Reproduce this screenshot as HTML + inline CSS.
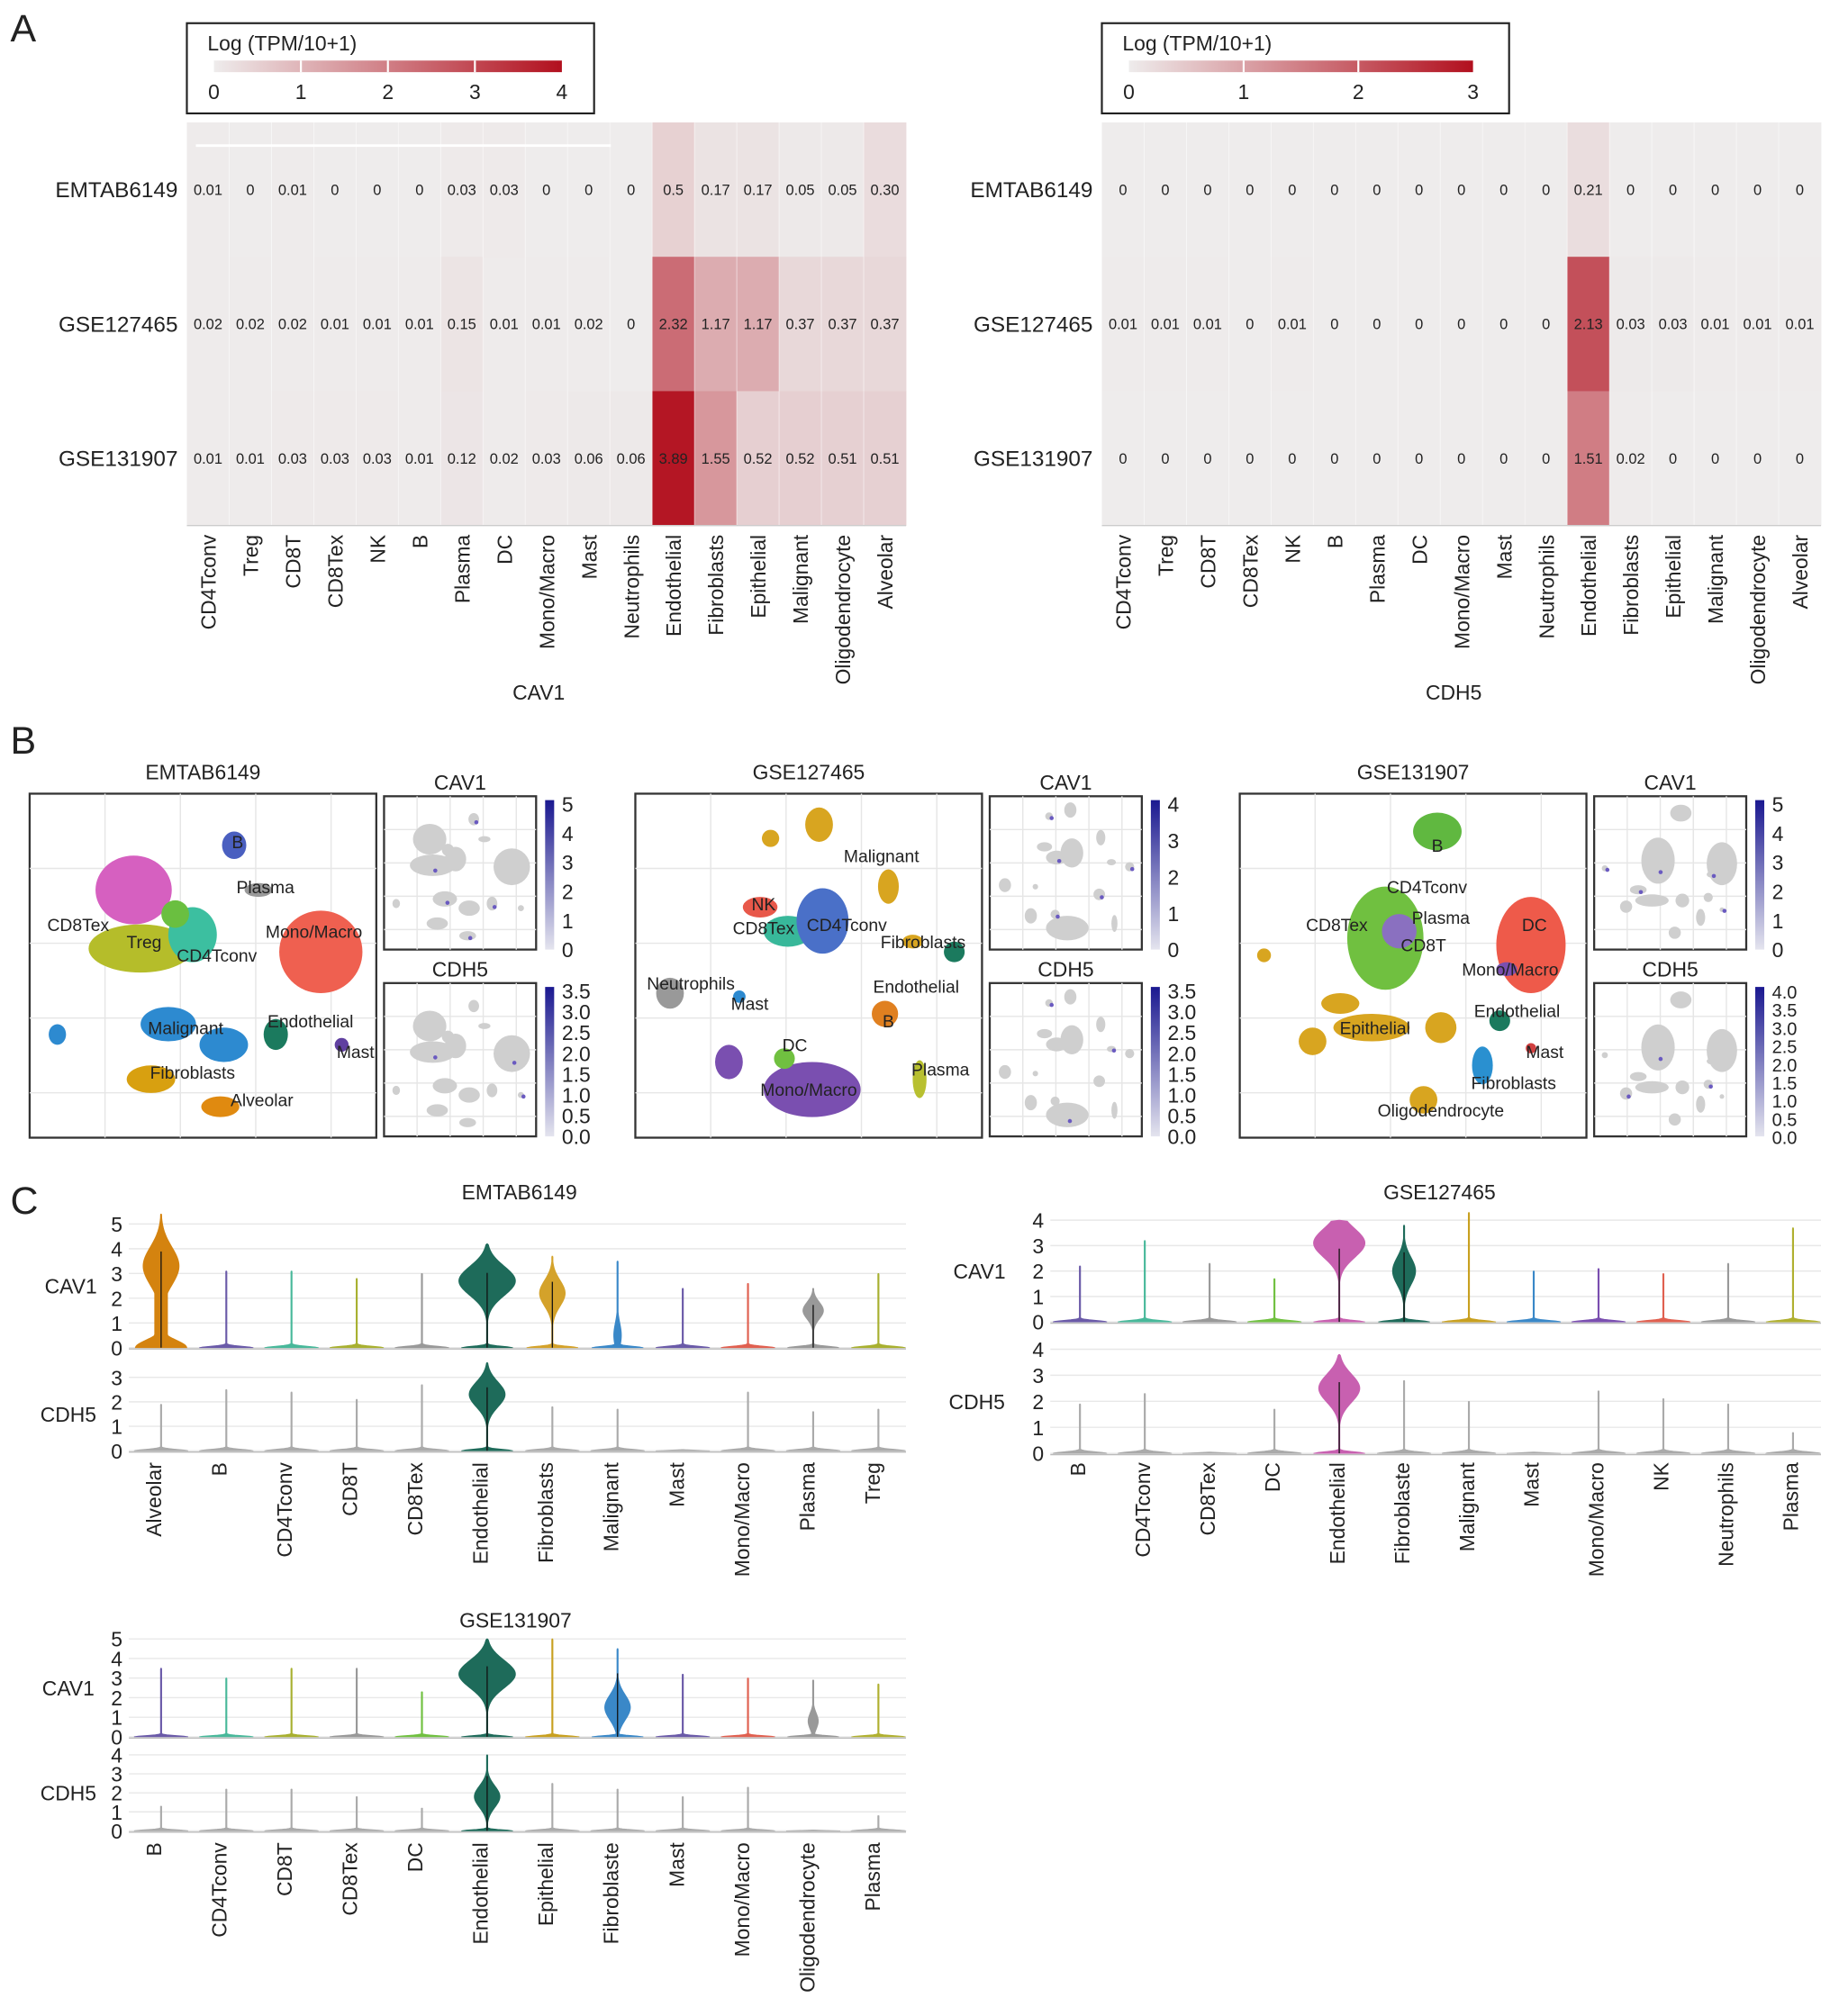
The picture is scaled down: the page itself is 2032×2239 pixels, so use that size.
<!DOCTYPE html>
<html><head><meta charset="utf-8"><style>
html,body{margin:0;padding:0;background:#fff}
svg{display:block}
text{font-family:"Liberation Sans",sans-serif;fill:#222}
</style></head><body>
<svg id="fig" width="2032" height="2239" viewBox="0 0 1420 1564.7" preserveAspectRatio="none" xmlns="http://www.w3.org/2000/svg">
<text x="8" y="32" font-size="30">A</text>
<text x="8" y="585" font-size="30">B</text>
<text x="8" y="942" font-size="30">C</text>
<g id="hm"></g><g id="um"></g><g id="vi"></g>
</svg>
<script>
const NS='http://www.w3.org/2000/svg';
function mk(tag,attrs,parent,txt){const e=document.createElementNS(NS,tag);for(const k in attrs)e.setAttribute(k,attrs[k]);if(txt!==undefined)e.textContent=txt;parent.appendChild(e);return e;}

// ---------- Panel A data ----------
const hmRows=['EMTAB6149','GSE127465','GSE131907'];
const cav1Cols=['CD4Tconv','Treg','CD8T','CD8Tex','NK','B','Plasma','DC','Mono/Macro','Mast','Neutrophils','Endothelial','Fibroblasts','Epithelial','Malignant','Oligodendrocyte','Alveolar'];
const cav1Vals=[
[0.01,0,0.01,0,0,0,0.03,0.03,0,0,0,0.5,0.17,0.17,0.05,0.05,0.30],
[0.02,0.02,0.02,0.01,0.01,0.01,0.15,0.01,0.01,0.02,0,2.32,1.17,1.17,0.37,0.37,0.37],
[0.01,0.01,0.03,0.03,0.03,0.01,0.12,0.02,0.03,0.06,0.06,3.89,1.55,0.52,0.52,0.51,0.51]];
const cav1Labels=[
['0.01','0','0.01','0','0','0','0.03','0.03','0','0','0','0.5','0.17','0.17','0.05','0.05','0.30'],
['0.02','0.02','0.02','0.01','0.01','0.01','0.15','0.01','0.01','0.02','0','2.32','1.17','1.17','0.37','0.37','0.37'],
['0.01','0.01','0.03','0.03','0.03','0.01','0.12','0.02','0.03','0.06','0.06','3.89','1.55','0.52','0.52','0.51','0.51']];
const cdh5Vals=[
[0,0,0,0,0,0,0,0,0,0,0,0.21,0,0,0,0,0],
[0.01,0.01,0.01,0,0.01,0,0,0,0,0,0,2.13,0.03,0.03,0.01,0.01,0.01],
[0,0,0,0,0,0,0,0,0,0,0,1.51,0.02,0,0,0,0]];
const cav1Ticks=['0','1','2','3','4'];
const cdh5Ticks=['0','1','2','3'];

function heat(v,max){const t=Math.min(1,v/max);const r=Math.round(238-t*60),g=Math.round(236-t*220),b=Math.round(236-t*206);return `rgb(${r},${g},${b})`;}
function heatmap(g,x0,gene,vals,labels,ticks){
  const w=558/17,y0=95,h=104.3,max=ticks.length-1;
  const grp=mk('g',{},g);
  const lx=x0, lg=mk('g',{},grp);
  mk('rect',{x:lx,y:18,width:316,height:70,fill:'#fff',stroke:'#222','stroke-width':1.5},lg);
  mk('text',{x:lx+16,y:39,'font-size':16},lg,'Log (TPM/10+1)');
  const gid='grad'+gene;const defs=mk('defs',{},lg);const gr=mk('linearGradient',{id:gid},defs);
  mk('stop',{offset:'0','stop-color':heat(0,1)},gr);mk('stop',{offset:'1','stop-color':heat(1,1)},gr);
  const bx=lx+21,bw=lx===145?270:267;
  mk('rect',{x:bx,y:47,width:bw,height:9,fill:`url(#${gid})`},lg);
  ticks.forEach((t,i)=>{const tx=bx+bw*i/max;if(i>0&&i<max)mk('line',{x1:tx,x2:tx,y1:47,y2:56,stroke:'#fff','stroke-width':1.5},lg);
    mk('text',{x:tx,y:77,'font-size':16,'text-anchor':'middle'},lg,t);});
  hmRows.forEach((r,ri)=>{
    mk('text',{x:x0-7,y:y0+h*ri+h/2+6,'font-size':17,'text-anchor':'end',},grp,r);
    cav1Cols.forEach((c,ci)=>{
      const v=vals[ri][ci];
      const cell=mk('rect',{x:x0+ci*w,y:y0+ri*h,width:w+0.3,height:h+0.3,fill:heat(v,max)},grp);
      
      
      mk('text',{x:x0+ci*w+w/2,y:y0+ri*h+h/2+4,'font-size':11.5,'text-anchor':'middle'},grp,labels?labels[ri][ci]:String(v));
    });
  });
  for(let ci=1;ci<17;ci++)mk('line',{x1:x0+ci*w,x2:x0+ci*w,y1:y0,y2:y0+3*h,stroke:'#fff','stroke-width':0.6,'stroke-opacity':0.6},grp);
  mk('line',{x1:x0,x2:x0+558,y1:y0+3*h,y2:y0+3*h,stroke:'#ccc'},grp);
  cav1Cols.forEach((c,ci)=>{const cx=x0+ci*w+w/2+6;
    mk('text',{x:0,y:0,'font-size':16,'text-anchor':'end',transform:`translate(${cx},415) rotate(-90)`,},grp,c);});
  mk('text',{x:x0+273,y:543,'font-size':16,'text-anchor':'middle',},grp,gene);
}
const hm=document.getElementById('hm');
heatmap(hm,145,'CAV1',cav1Vals,cav1Labels,cav1Ticks);
const cdh5Labels=cdh5Vals.map(r=>r.map(v=>String(v)));
heatmap(hm,855,'CDH5',cdh5Vals,cdh5Labels,cdh5Ticks);
mk('line',{x1:152,x2:474,y1:113,y2:113,stroke:'#fff','stroke-width':2},hm);

// ---------- Panel B data (cluster centres in UMAP units 0-1) ----------
const umEmtabClusters=[
 [0.30,0.28,0.11,0.10,'#d660c0'],[0.32,0.45,0.15,0.07,'#b5bd2a'],[0.47,0.41,0.07,0.08,'#3cbfa0'],[0.42,0.35,0.04,0.04,'#6abf40'],
 [0.59,0.15,0.035,0.04,'#4a5fc0'],[0.66,0.28,0.04,0.02,'#999999'],[0.84,0.46,0.12,0.12,'#ef6050'],
 [0.40,0.67,0.08,0.05,'#2d8ad0'],[0.56,0.73,0.07,0.05,'#2d8ad0'],[0.08,0.70,0.025,0.03,'#2d8ad0'],
 [0.71,0.70,0.035,0.045,'#1b7a5e'],[0.90,0.73,0.02,0.02,'#6040a0'],[0.35,0.83,0.07,0.04,'#d8a010'],[0.55,0.91,0.055,0.03,'#e08a10']];
const umEmtabLabels=[['B',0.60,0.14],['Plasma',0.68,0.27],['CD8Tex',0.14,0.38],['Treg',0.33,0.43],['CD4Tconv',0.54,0.47],['Mono/Macro',0.82,0.40],['Malignant',0.45,0.68],['Endothelial',0.81,0.66],['Mast',0.94,0.75],['Fibroblasts',0.47,0.81],['Alveolar',0.67,0.89]];
const umGse127Clusters=[
 [0.53,0.09,0.04,0.05,'#d8a520'],[0.39,0.13,0.025,0.025,'#d8a520'],[0.73,0.27,0.03,0.05,'#d8a520'],
 [0.36,0.33,0.05,0.03,'#e8584a'],[0.44,0.40,0.07,0.045,'#38b89a'],[0.54,0.37,0.075,0.095,'#4a70c8'],
 [0.80,0.43,0.03,0.02,'#d8a520'],[0.92,0.46,0.03,0.03,'#1b7a5e'],[0.10,0.58,0.04,0.045,'#999999'],
 [0.30,0.59,0.018,0.018,'#2d8ad0'],[0.72,0.64,0.038,0.038,'#e08020'],[0.51,0.86,0.14,0.08,'#7a4fb0'],
 [0.27,0.78,0.04,0.05,'#7a4fb0'],[0.43,0.77,0.03,0.03,'#70c040'],[0.82,0.83,0.02,0.055,'#b8c030']];
const umGse127Labels=[['Malignant',0.71,0.18],['NK',0.37,0.32],['CD8Tex',0.37,0.39],['CD4Tconv',0.61,0.38],['Fibroblasts',0.83,0.43],['Neutrophils',0.16,0.55],['Mast',0.33,0.61],['Endothelial',0.81,0.56],['B',0.73,0.66],['DC',0.46,0.73],['Plasma',0.88,0.80],['Mono/Macro',0.50,0.86]];
const umGse131Clusters=[
 [0.57,0.11,0.07,0.055,'#60b840'],[0.42,0.42,0.11,0.15,'#70c040'],[0.46,0.40,0.05,0.05,'#8a70c0'],[0.84,0.44,0.10,0.14,'#ee5a4a'],
 [0.77,0.51,0.03,0.02,'#7a4fb0'],[0.38,0.68,0.11,0.04,'#d8a520'],[0.21,0.72,0.04,0.04,'#d8a520'],[0.07,0.47,0.02,0.02,'#d8a520'],
 [0.58,0.68,0.045,0.045,'#d8a520'],[0.53,0.89,0.04,0.04,'#d8a520'],[0.29,0.61,0.055,0.03,'#d8a520'],
 [0.75,0.66,0.03,0.03,'#1b7a5e'],[0.70,0.79,0.03,0.055,'#2a90d0'],[0.84,0.74,0.015,0.015,'#d04040']];
const umGse131Labels=[['B',0.57,0.15],['CD4Tconv',0.54,0.27],['CD8Tex',0.28,0.38],['Plasma',0.58,0.36],['CD8T',0.53,0.44],['DC',0.85,0.38],['Mono/Macro',0.78,0.51],['Endothelial',0.80,0.63],['Epithelial',0.39,0.68],['Mast',0.88,0.75],['Fibroblasts',0.79,0.84],['Oligodendrocyte',0.58,0.92]];
const cav1Bar1=['5','4','3','2','1','0'], cdh5Bar1=['3.5','3.0','2.5','2.0','1.5','1.0','0.5','0.0'];
const cav1Bar2=['4','3','2','1','0'], cdh5Bar2=['3.5','3.0','2.5','2.0','1.5','1.0','0.5','0.0'];
const cav1Bar3=['5','4','3','2','1','0'], cdh5Bar3=['4.0','3.5','3.0','2.5','2.0','1.5','1.0','0.5','0.0'];

function umapPanel(g,x,title,clusters,labels,bars){
  const grp=mk('g',{},g);
  const W=269,H=267,y=616;
  mk('text',{x:x+W/2,y:y-11,'font-size':16,'text-anchor':'middle'},grp,title);
  function frame(fx,fy,fw,fh){mk('rect',{x:fx,y:fy,width:fw,height:fh,fill:'#fff',stroke:'#333','stroke-width':1.6},grp);
    for(let i=1;i<5;i++){mk('line',{x1:fx+fw*i/4.6,x2:fx+fw*i/4.6,y1:fy,y2:fy+fh,stroke:'#e6e6e6'},grp);mk('line',{x1:fx,x2:fx+fw,y1:fy+fh*i/4.6,y2:fy+fh*i/4.6,stroke:'#e6e6e6'},grp);}}
  frame(x,y,W,H);
  const sx=u=>x+u*W, sy=v=>y+v*H;
  clusters.forEach(c=>{const e=mk('ellipse',{cx:sx(c[0]),cy:sy(c[1]),rx:c[2]*W,ry:c[3]*H,fill:c[4]},grp);
    
    });
  labels.forEach(l=>mk('text',{x:sx(l[1]),y:sy(l[2])+5,'font-size':13.5,'text-anchor':'middle',},grp,l[0]));
  const fx=x+W+6, fw=118, fh=119;
  [[y+2,'CAV1',bars[0]],[y+147,'CDH5',bars[1]]].forEach(([fy,gene,ticks],k)=>{
    mk('text',{x:fx+fw/2,y:fy-5,'font-size':16,'text-anchor':'middle'},grp,gene);
    frame(fx,fy,fw,fh);
    clusters.forEach((c,ci)=>{mk('ellipse',{cx:fx+c[0]*fw,cy:fy+c[1]*fh,rx:c[2]*fw,ry:c[3]*fh,fill:'#cfcfcf'},grp);});
    clusters.forEach((c,ci)=>{if(ci%(k?5:3)===1)mk('circle',{cx:fx+c[0]*fw+2,cy:fy+c[1]*fh+c[3]*fh*0.5,r:1.6,fill:'#6a5ac0'},grp);});
    const gid='ub'+title+gene;const defs=mk('defs',{},grp);const gr=mk('linearGradient',{id:gid,x1:0,y1:1,x2:0,y2:0},defs);
    mk('stop',{offset:'0','stop-color':'#e4e4ee'},gr);mk('stop',{offset:'1','stop-color':'#1a1890'},gr);
    mk('rect',{x:fx+fw+7,y:fy+3,width:7,height:fh-3,fill:`url(#${gid})`},grp);
    const n=ticks.length;
    ticks.forEach((t,i)=>mk('text',{x:fx+fw+20,y:fy+6+(fh-6)*i/(n-1)+6,'font-size':n>8?14:16},grp,t));
  });
}
const um=document.getElementById('um');
umapPanel(um,23,'EMTAB6149',umEmtabClusters,umEmtabLabels,[cav1Bar1,cdh5Bar1]);
umapPanel(um,493,'GSE127465',umGse127Clusters,umGse127Labels,[cav1Bar2,cdh5Bar2]);
umapPanel(um,962,'GSE131907',umGse131Clusters,umGse131Labels,[cav1Bar3,cdh5Bar3]);

// ---------- Panel C data ----------
const emtabCats=['Alveolar','B','CD4Tconv','CD8T','CD8Tex','Endothelial','Fibroblasts','Malignant','Mast','Mono/Macro','Plasma','Treg'];
const emtabColors=['#d4830f','#6a5aa8','#48b89a','#a8b030','#999999','#1e6b5a','#d4a22a','#3a88c8','#6a5aa8','#e06050','#999999','#a8b030'];
const emtabCav1Max=[5.4,3.1,3.1,2.8,3.0,4.2,3.7,3.5,2.4,2.6,2.4,3.0];
const emtabCav1Bulge=[14,0,0,0,0,22,10,3,0,0,8,0];
const emtabCav1Mid=[3.3,0,0,0,0,2.7,2.2,0.5,0,0,1.5,0];
const emtabCdh5Max=[1.9,2.5,2.4,2.1,2.7,3.6,1.8,1.7,0,2.4,1.6,1.7];
const emtabCdh5Bulge=[0,0,0,0,0,14,0,0,0,0,0,0];
const emtabCdh5Mid=[0,0,0,0,0,2.3,0,0,0,0,0,0];

const g127Cats=['B','CD4Tconv','CD8Tex','DC','Endothelial','Fibroblaste','Malignant','Mast','Mono/Macro','NK','Neutrophils','Plasma'];
const g127Colors=['#6a5aa8','#48b89a','#999999','#70c040','#c860b0','#1e6b5a','#c8a020','#3a88c8','#7a4fb0','#e06050','#999999','#b0b030'];
const g127Cav1Max=[2.2,3.2,2.3,1.7,4.0,3.8,4.3,2.0,2.1,1.9,2.3,3.7];
const g127Cav1Bulge=[0,0,0,0,20,9,0,0,0,0,0,0];
const g127Cav1Mid=[0,0,0,0,3.1,2.0,0,0,0,0,0,0];
const g127Cdh5Max=[1.9,2.3,0,1.7,3.8,2.8,2.0,0,2.4,2.1,1.9,0.8];
const g127Cdh5Bulge=[0,0,0,0,16,0,0,0,0,0,0,0];
const g127Cdh5Mid=[0,0,0,0,2.5,0,0,0,0,0,0,0];

const g131Cats=['B','CD4Tconv','CD8T','CD8Tex','DC','Endothelial','Epithelial','Fibroblaste','Mast','Mono/Macro','Oligodendrocyte','Plasma'];
const g131Colors=['#6a5aa8','#48b89a','#a8b030','#999999','#70c040','#1e6b5a','#c8a020','#3a88c8','#6a5aa8','#e06050','#999999','#b0b030'];
const g131Cav1Max=[3.5,3.0,3.5,3.5,2.3,5.0,5.0,4.5,3.2,3.0,2.9,2.7];
const g131Cav1Bulge=[0,0,0,0,0,22,0,10,0,0,4,0];
const g131Cav1Mid=[0,0,0,0,0,3.2,0,1.5,0,0,0.8,0];
const g131Cdh5Max=[1.3,2.2,2.2,1.8,1.2,4.0,2.5,2.2,1.8,2.3,0,0.8];
const g131Cdh5Bulge=[0,0,0,0,0,10,0,0,0,0,0,0];
const g131Cdh5Mid=[0,0,0,0,0,1.8,0,0,0,0,0,0];

function violinTrack(g,o){
  const grp=mk('g',{},g);
  const yS=v=>o.yZero-v*o.unit, xS=i=>o.cx0+i*o.step;
  for(let t=0;t<=o.ticks;t++){mk('line',{x1:o.x0,x2:o.x1,y1:yS(t),y2:yS(t),stroke:'#e8e8e8'},grp);
    mk('text',{x:o.x0-5,y:yS(t)+6,'font-size':16,'text-anchor':'end'},grp,String(t));}
  mk('line',{x1:o.x0,x2:o.x1,y1:o.yZero+1,y2:o.yZero+1,stroke:'#bbb'},grp);
  mk('text',{x:o.labelX,y:(yS(0)+yS(o.ticks))/2+6,'font-size':16,'text-anchor':'middle'},grp,o.gene);
  o.max.forEach((m,i)=>{
    const cx=xS(i), col=o.grey&&!o.bulge[i]?'#aaaaaa':o.colors[i];
    const pts=[],N=100,w0=o.bulge[i]?20:21,bs=(i===0&&o.wideBase)?0.3:0.06;
    const sd=Math.max(0.45,m*0.2);
    for(let k=0;k<=N;k++){const v=m*k/N;
      let w=Math.max(w0*Math.exp(-Math.pow(v/bs,2)/2), o.bulge[i]*Math.exp(-Math.pow((v-o.mid[i])/sd,2)), 0.5);
      if(i===0&&o.wideBase&&v>0.3&&v<2.2)w=Math.max(w,5);
      if(k===N)w=0.3;
      pts.push([w,yS(v)]);}
    if(m<=0){pts.length=0;pts.push([w0,yS(0)],[0.3,yS(0.05)]);}
    let d=`M${cx-pts[0][0]},${yS(0)} `;
    pts.forEach(p=>d+=`L${cx-p[0]},${p[1]} `);
    for(let k=pts.length-1;k>=0;k--)d+=`L${cx+pts[k][0]},${pts[k][1]} `;
    d+=`L${cx+pts[0][0]},${yS(0)} Z`;
    const p=mk('path',{d:d,fill:col,stroke:col,'stroke-width':0.5},grp);
    
    
    if(o.bulge[i]>5)mk('line',{x1:cx,x2:cx,y1:yS(0),y2:yS(m*0.72),stroke:'#111','stroke-width':0.9},grp);
  });
}
function catLabels(g,cats,cx0,step,y){cats.forEach((c,i)=>mk('text',{x:0,y:0,'font-size':16,'text-anchor':'end',transform:`translate(${cx0+i*step+6},${y}) rotate(-90)`,},g,c));}
const vi=document.getElementById('vi');
mk('text',{x:403,y:931,'font-size':16,'text-anchor':'middle',},vi,'EMTAB6149');
violinTrack(vi,{x0:100,x1:703,cx0:125,step:50.6,yZero:1046,unit:19.2,ticks:5,gene:'CAV1',labelX:55,max:emtabCav1Max,bulge:emtabCav1Bulge,mid:emtabCav1Mid,colors:emtabColors,wideBase:true});
violinTrack(vi,{x0:100,x1:703,cx0:125,step:50.6,yZero:1126,unit:19,ticks:3,gene:'CDH5',labelX:53,max:emtabCdh5Max,bulge:emtabCdh5Bulge,mid:emtabCdh5Mid,colors:emtabColors,grey:true});
catLabels(vi,emtabCats,119,50.7,1135);
mk('text',{x:1117,y:931,'font-size':16,'text-anchor':'middle',},vi,'GSE127465');
violinTrack(vi,{x0:815,x1:1413,cx0:838,step:50.3,yZero:1026,unit:19.75,ticks:4,gene:'CAV1',labelX:760,max:g127Cav1Max,bulge:g127Cav1Bulge,mid:g127Cav1Mid,colors:g127Colors});
violinTrack(vi,{x0:815,x1:1413,cx0:838,step:50.3,yZero:1128,unit:20.2,ticks:4,gene:'CDH5',labelX:758,max:g127Cdh5Max,bulge:g127Cdh5Bulge,mid:g127Cdh5Mid,colors:g127Colors,grey:true});
catLabels(vi,g127Cats,836,50.3,1135);
mk('text',{x:400,y:1263,'font-size':16,'text-anchor':'middle',},vi,'GSE131907');
violinTrack(vi,{x0:100,x1:703,cx0:125,step:50.6,yZero:1348,unit:15.2,ticks:5,gene:'CAV1',labelX:53,max:g131Cav1Max,bulge:g131Cav1Bulge,mid:g131Cav1Mid,colors:g131Colors});
violinTrack(vi,{x0:100,x1:703,cx0:125,step:50.6,yZero:1421,unit:14.75,ticks:4,gene:'CDH5',labelX:53,max:g131Cdh5Max,bulge:g131Cdh5Bulge,mid:g131Cdh5Mid,colors:g131Colors,grey:true});
catLabels(vi,g131Cats,119,50.7,1430);
</script>
</body></html>
